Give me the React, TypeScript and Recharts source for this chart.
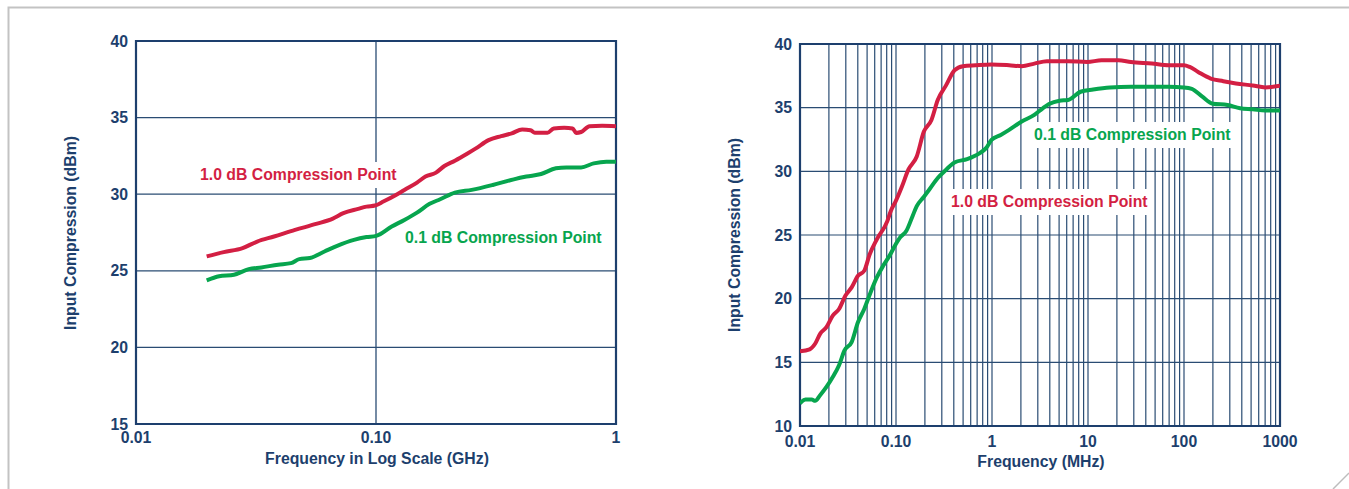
import { LineChart, Line, XAxis, YAxis, CartesianGrid, ReferenceArea } from 'recharts';

const NAVY = '#1d3f6d';
const GRID = '#2a4c73';
const RED = '#d31f43';
const GREEN = '#07a54e';
const FONT = '"Liberation Sans", Arial, Helvetica, sans-serif';

// left panel: frequency in GHz, input compression in dBm
const ghzRed = [0.0197, 0.0232, 0.0278, 0.032, 0.0376, 0.046, 0.0563, 0.0661, 0.0731, 0.0842, 0.0913, 0.099, 0.1073, 0.1211, 0.1313, 0.1482, 0.1607, 0.1778, 0.1927, 0.2132, 0.2406, 0.2608, 0.2944, 0.3323, 0.3676, 0.4065, 0.4408, 0.4589, 0.5179, 0.5503, 0.6087, 0.6599, 0.6815, 0.7153, 0.7756, 0.8754, 1.0];
const dbmRed = [25.94, 26.22, 26.48, 26.91, 27.24, 27.67, 28.06, 28.41, 28.76, 29.04, 29.19, 29.26, 29.52, 29.95, 30.28, 30.76, 31.15, 31.41, 31.84, 32.19, 32.66, 32.99, 33.53, 33.79, 33.97, 34.23, 34.18, 34.01, 34.01, 34.29, 34.33, 34.29, 34.0, 34.06, 34.44, 34.46, 34.44];
const ghzGreen = [0.0197, 0.0222, 0.0256, 0.0295, 0.0333, 0.0391, 0.0442, 0.0479, 0.053, 0.061, 0.0689, 0.0809, 0.0913, 0.1002, 0.1163, 0.1313, 0.1482, 0.1673, 0.1851, 0.2132, 0.2505, 0.3065, 0.375, 0.4233, 0.4875, 0.5614, 0.6211, 0.7153, 0.8075, 0.9116, 1.0];
const dbmGreen = [24.37, 24.64, 24.74, 25.11, 25.22, 25.4, 25.5, 25.76, 25.83, 26.26, 26.63, 27.02, 27.2, 27.28, 27.89, 28.32, 28.8, 29.37, 29.67, 30.1, 30.28, 30.6, 30.97, 31.15, 31.32, 31.69, 31.75, 31.75, 32.01, 32.12, 32.12];
const ghzTicks = [0.01, 0.1, 1];
const ghzTickLabels = ['0.01', '0.10', '1'];
const dbmTicksLeft = [15, 20, 25, 30, 35, 40];

// right panel: frequency in MHz
const mhzRed = [0.01, 0.0126, 0.01437, 0.0162, 0.01886, 0.02194, 0.02552, 0.02968, 0.03452, 0.04015, 0.04669, 0.05324, 0.06316, 0.08124, 0.08808, 0.0994, 0.1156, 0.1345, 0.1645, 0.1952, 0.234, 0.2722, 0.333, 0.407, 0.498, 0.674, 0.988, 1.508, 2.04, 2.76, 3.73, 6.18, 9.82, 13.83, 20.7, 28.0, 46.3, 69.3, 99.6, 114.7, 140.3, 189.7, 256.7, 347.4, 519.7, 703, 1000];
const dbmRedR = [15.86, 16.02, 16.46, 17.24, 17.76, 18.67, 19.19, 20.23, 20.89, 21.8, 22.19, 23.49, 24.66, 26.09, 26.87, 27.66, 28.83, 30.13, 31.17, 33.12, 34.04, 35.6, 36.77, 37.94, 38.26, 38.33, 38.39, 38.33, 38.26, 38.46, 38.65, 38.65, 38.59, 38.72, 38.72, 38.59, 38.46, 38.33, 38.33, 38.2, 37.81, 37.29, 37.08, 36.9, 36.74, 36.59, 36.72];
const mhzGreen = [0.01, 0.0114, 0.01326, 0.01437, 0.0162, 0.01886, 0.02194, 0.02552, 0.02909, 0.03452, 0.04015, 0.04669, 0.05431, 0.06316, 0.07347, 0.08546, 0.0994, 0.1099, 0.1279, 0.1487, 0.1645, 0.1913, 0.2225, 0.2722, 0.333, 0.407, 0.5508, 0.7453, 0.8668, 0.988, 1.233, 1.508, 2.04, 2.76, 3.377, 3.926, 5.05, 6.18, 8.36, 11.31, 16.92, 28.0, 46.3, 69.3, 99.6, 120.6, 155.2, 199.5, 283.9, 384, 519.7, 703, 1000];
const dbmGreenR = [11.77, 12.08, 12.08, 11.98, 12.42, 13.07, 13.85, 14.77, 15.94, 16.59, 18.15, 19.19, 20.49, 21.67, 22.58, 23.36, 24.27, 24.79, 25.31, 26.48, 27.27, 27.92, 28.57, 29.48, 30.13, 30.7, 30.96, 31.43, 31.82, 32.47, 32.86, 33.26, 33.91, 34.43, 34.95, 35.29, 35.55, 35.6, 36.25, 36.43, 36.59, 36.64, 36.64, 36.64, 36.59, 36.48, 35.86, 35.31, 35.21, 34.95, 34.87, 34.77, 34.77];
const mhzDecades = [0.01, 0.1, 1, 10, 100, 1000];
const mhzDecadeLabels = ['0.01', '0.10', '1', '10', '100', '1000'];
const minorSteps = [1, 2, 3, 4, 5, 6, 7, 8, 9];
const dbmTicksRight = [10, 15, 20, 25, 30, 35, 40];

const zip = (xs: number[], ys: number[]) => xs.map((f, i) => ({ f, v: ys[i] }));

const mhzGridTicks = mhzDecades
  .slice(0, -1)
  .flatMap((d) => minorSteps.map((k) => k * d))
  .concat([1000]);

const labelFor = (ticks: number[], labels: string[]) => (v: number) => {
  const i = ticks.findIndex((t) => Math.abs(v - t) / t < 1e-6);
  return i >= 0 ? labels[i] : '';
};

const tickStyle = { fill: NAVY, fontSize: 15.8, fontWeight: 700, fontFamily: FONT };

const textBase: React.CSSProperties = {
  position: 'absolute',
  fontFamily: FONT,
  fontWeight: 700,
  fontSize: 15.8,
  lineHeight: '20px',
  whiteSpace: 'nowrap',
};

function Note({ left, top, color, text }: { left: number; top: number; color: string; text: string }) {
  return (
    <div style={{ ...textBase, left, top, color, background: '#fff', padding: '3px 4px' }}>{text}</div>
  );
}

function YTitle({ cx, cy }: { cx: number; cy: number }) {
  return (
    <div
      style={{
        ...textBase,
        color: NAVY,
        width: 300,
        height: 20,
        left: cx - 150,
        top: cy - 10,
        textAlign: 'center',
        transform: 'rotate(-90deg)',
      }}
    >
      Input Compression (dBm)
    </div>
  );
}

function XTitle({ cx, cy, text }: { cx: number; cy: number; text: string }) {
  return (
    <div style={{ ...textBase, color: NAVY, width: 400, left: cx - 200, top: cy - 10, textAlign: 'center' }}>
      {text}
    </div>
  );
}

export default function App() {
  return (
    <div style={{ position: 'absolute', left: 0, top: 0, width: 1349, height: 489, background: '#fff', overflow: 'hidden' }}>
      <svg width={1349} height={489} style={{ position: 'absolute', left: 0, top: 0 }}>
        <path d="M8.5 489 L8.5 7.5 L1349 7.5" fill="none" stroke="#c3c3c3" strokeWidth={2} />
        <path d="M1333 489 L1349 473" fill="none" stroke="#bdbdbd" strokeWidth={1.5} />
      </svg>

      <div style={{ position: 'absolute', left: 0, top: 0 }}>
        <LineChart width={660} height={489} margin={{ top: 41, right: 44, bottom: 15, left: 76 }}>
          <CartesianGrid stroke={GRID} strokeWidth={1.3} />
          <XAxis
            type="number"
            dataKey="f"
            scale="log"
            domain={[0.01, 1]}
            allowDataOverflow
            ticks={ghzTicks}
            interval={0}
            tickFormatter={labelFor(ghzTicks, ghzTickLabels)}
            tickLine={false}
            axisLine={false}
            tickMargin={2}
            height={50}
            tick={tickStyle}
          />
          <YAxis
            type="number"
            domain={[15, 40]}
            ticks={dbmTicksLeft}
            interval={0}
            tickLine={false}
            axisLine={false}
            width={60}
            tick={tickStyle}
          />
          <Line data={zip(ghzRed, dbmRed)} dataKey="v" type="monotone" stroke={RED} strokeWidth={4} dot={false} activeDot={false} isAnimationActive={false} />
          <Line data={zip(ghzGreen, dbmGreen)} dataKey="v" type="monotone" stroke={GREEN} strokeWidth={4} dot={false} activeDot={false} isAnimationActive={false} />
          <ReferenceArea x1={0.01} x2={1} y1={15} y2={40} fill="none" fillOpacity={0} stroke={NAVY} strokeWidth={2.2} ifOverflow="visible" />
        </LineChart>
      </div>

      <div style={{ position: 'absolute', left: 690, top: 0 }}>
        <LineChart width={640} height={489} margin={{ top: 44, right: 50, bottom: 13, left: 50 }}>
          <CartesianGrid stroke={GRID} strokeWidth={1.2} />
          <XAxis
            type="number"
            dataKey="f"
            scale="log"
            domain={[0.01, 1000]}
            allowDataOverflow
            ticks={mhzGridTicks}
            interval={0}
            tickFormatter={labelFor(mhzDecades, mhzDecadeLabels)}
            tickLine={false}
            axisLine={false}
            tickMargin={4}
            height={50}
            tick={tickStyle}
          />
          <YAxis
            type="number"
            domain={[10, 40]}
            ticks={dbmTicksRight}
            interval={0}
            tickLine={false}
            axisLine={false}
            width={60}
            tick={tickStyle}
          />
          <Line data={zip(mhzRed, dbmRedR)} dataKey="v" type="monotone" stroke={RED} strokeWidth={4} dot={false} activeDot={false} isAnimationActive={false} />
          <Line data={zip(mhzGreen, dbmGreenR)} dataKey="v" type="monotone" stroke={GREEN} strokeWidth={4} dot={false} activeDot={false} isAnimationActive={false} />
          <ReferenceArea x1={0.01} x2={1000} y1={10} y2={40} fill="none" fillOpacity={0} stroke={NAVY} strokeWidth={2.2} ifOverflow="visible" />
        </LineChart>
      </div>

      <Note left={196} top={162} color={RED} text="1.0 dB Compression Point" />
      <Note left={401} top={225} color={GREEN} text="0.1 dB Compression Point" />
      <Note left={1030} top={122} color={GREEN} text="0.1 dB Compression Point" />
      <Note left={947} top={189} color={RED} text="1.0 dB Compression Point" />

      <YTitle cx={71} cy={233} />
      <XTitle cx={377} cy={459} text="Frequency in Log Scale (GHz)" />
      <YTitle cx={735} cy={235} />
      <XTitle cx={1041} cy={462} text="Frequency (MHz)" />
    </div>
  );
}
